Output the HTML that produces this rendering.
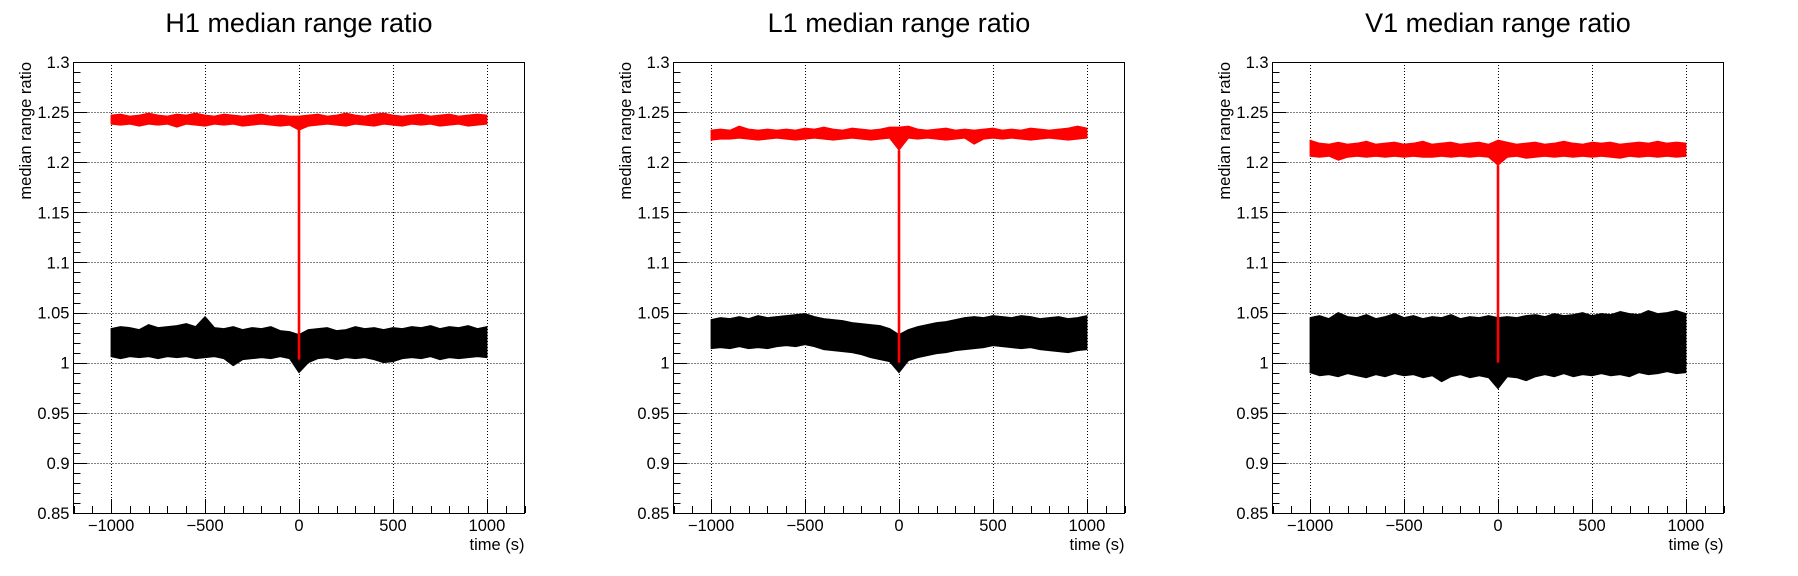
<!DOCTYPE html>
<html><head><meta charset="utf-8">
<style>
html,body{margin:0;padding:0;background:#fff;}
svg{display:block;font-family:"Liberation Sans",sans-serif;}
</style></head>
<body>
<svg id="chart" width="1798" height="576" viewBox="0 0 1798 576" xmlns="http://www.w3.org/2000/svg">
<rect width="1798" height="576" fill="#fff"/>
</svg>
<script>
const times = [-1000,-950,-900,-850,-800,-750,-700,-650,-600,-550,-500,-450,-400,-350,-300,-250,-200,-150,-100,-50,0,50,100,150,200,250,300,350,400,450,500,550,600,650,700,750,800,850,900,950,1000];
const xTicks = [-1000,-500,0,500,1000];
const xTickLabels = ["\u22121000","\u2212500","0","500","1000"];
const yTicks = [0.85,0.9,0.95,1,1.05,1.1,1.15,1.2,1.25,1.3];
const yTickLabels = ["0.85","0.9","0.95","1","1.05","1.1","1.15","1.2","1.25","1.3"];
const panelTitles = ["H1 median range ratio","L1 median range ratio","V1 median range ratio"];

const h1RedHi = [1.247,1.248,1.246,1.247,1.249,1.247,1.246,1.248,1.247,1.249,1.247,1.246,1.248,1.247,1.246,1.247,1.248,1.246,1.247,1.246,1.246,1.247,1.248,1.246,1.247,1.249,1.247,1.246,1.248,1.249,1.247,1.246,1.247,1.248,1.246,1.247,1.248,1.246,1.247,1.248,1.247];
const h1RedLo = [1.238,1.237,1.238,1.236,1.238,1.237,1.238,1.235,1.238,1.237,1.236,1.238,1.237,1.238,1.236,1.237,1.238,1.237,1.236,1.237,1.232,1.236,1.237,1.238,1.237,1.236,1.238,1.237,1.236,1.238,1.237,1.236,1.238,1.237,1.238,1.236,1.237,1.238,1.236,1.237,1.238];
const h1BlkHi = [1.034,1.036,1.035,1.033,1.038,1.035,1.036,1.037,1.039,1.036,1.046,1.035,1.034,1.036,1.033,1.035,1.034,1.036,1.032,1.031,1.028,1.033,1.034,1.035,1.032,1.033,1.036,1.034,1.035,1.033,1.035,1.034,1.036,1.035,1.037,1.034,1.036,1.035,1.037,1.034,1.036];
const h1BlkLo = [1.006,1.004,1.006,1.005,1.006,1.004,1.006,1.005,1.006,1.004,1.005,1.006,1.004,0.997,1.003,1.004,1.005,1.004,1.006,1.004,0.990,1.000,1.004,1.005,1.003,1.005,1.004,1.005,1.003,1.000,1.001,1.004,1.005,1.004,1.006,1.003,1.005,1.004,1.005,1.006,1.005];

const l1RedHi = [1.232,1.233,1.232,1.236,1.233,1.232,1.233,1.232,1.233,1.232,1.234,1.233,1.235,1.233,1.232,1.234,1.233,1.232,1.233,1.235,1.235,1.236,1.233,1.232,1.233,1.234,1.232,1.233,1.232,1.233,1.234,1.232,1.233,1.232,1.234,1.233,1.232,1.233,1.234,1.236,1.234];
const l1RedLo = [1.222,1.223,1.223,1.224,1.223,1.222,1.223,1.224,1.223,1.222,1.223,1.224,1.223,1.222,1.223,1.224,1.223,1.222,1.223,1.224,1.212,1.224,1.223,1.224,1.223,1.222,1.223,1.224,1.218,1.223,1.224,1.223,1.224,1.223,1.222,1.223,1.224,1.223,1.222,1.223,1.224];
const l1BlkHi = [1.043,1.045,1.044,1.046,1.044,1.047,1.045,1.046,1.047,1.048,1.049,1.046,1.044,1.043,1.042,1.040,1.039,1.038,1.037,1.034,1.028,1.033,1.036,1.038,1.040,1.041,1.043,1.045,1.046,1.045,1.047,1.046,1.045,1.047,1.046,1.044,1.045,1.046,1.044,1.045,1.047];
const l1BlkLo = [1.014,1.015,1.014,1.016,1.014,1.015,1.014,1.016,1.017,1.016,1.018,1.016,1.013,1.012,1.011,1.010,1.008,1.005,1.003,1.001,0.990,1.002,1.005,1.007,1.009,1.010,1.012,1.013,1.014,1.015,1.017,1.016,1.015,1.014,1.015,1.013,1.012,1.011,1.010,1.012,1.013];

const v1RedHi = [1.222,1.219,1.218,1.220,1.218,1.219,1.221,1.218,1.219,1.220,1.218,1.219,1.221,1.218,1.219,1.220,1.218,1.219,1.220,1.218,1.222,1.220,1.218,1.219,1.220,1.218,1.219,1.221,1.219,1.218,1.220,1.219,1.220,1.218,1.219,1.220,1.219,1.221,1.219,1.220,1.219];
const v1RedLo = [1.206,1.205,1.206,1.202,1.205,1.206,1.205,1.206,1.205,1.206,1.205,1.206,1.205,1.205,1.206,1.205,1.206,1.205,1.206,1.205,1.197,1.205,1.206,1.204,1.205,1.206,1.205,1.206,1.205,1.206,1.205,1.206,1.205,1.204,1.206,1.205,1.206,1.205,1.206,1.205,1.206];
const v1BlkHi = [1.045,1.047,1.044,1.050,1.046,1.045,1.048,1.044,1.046,1.049,1.045,1.047,1.044,1.046,1.045,1.048,1.044,1.046,1.045,1.047,1.045,1.046,1.045,1.047,1.048,1.046,1.049,1.047,1.048,1.050,1.047,1.049,1.048,1.051,1.049,1.048,1.052,1.049,1.050,1.052,1.049];
const v1BlkLo = [0.990,0.987,0.988,0.986,0.989,0.987,0.985,0.988,0.986,0.989,0.987,0.988,0.985,0.987,0.981,0.986,0.988,0.985,0.987,0.985,0.974,0.986,0.985,0.982,0.986,0.988,0.986,0.989,0.986,0.988,0.987,0.989,0.987,0.988,0.986,0.990,0.988,0.989,0.991,0.989,0.990];

const redDip = [1.003, 1.000, 1.000];
const blackDip = [0.990, 0.990, 0.974];

const series = [
  {rh:h1RedHi, rl:h1RedLo, bh:h1BlkHi, bl:h1BlkLo},
  {rh:l1RedHi, rl:l1RedLo, bh:l1BlkHi, bl:l1BlkLo},
  {rh:v1RedHi, rl:v1RedLo, bh:v1BlkHi, bl:v1BlkLo}
];
const panelOffsets = [0, 600, 1199];
const prefixes = ["h1","l1","v1"];

const NS = "http://www.w3.org/2000/svg";
const svg = document.getElementById('chart');
function mk(tag, attrs, parent){
  const e = document.createElementNS(NS, tag);
  for (const k in attrs) e.setAttribute(k, attrs[k]);
  parent.appendChild(e);
  return e;
}
const X0 = 73.5, W = 451, Y0 = 62, H = 451;
const xMin = -1200, xMax = 1200, yMin = 0.85, yMax = 1.3;

panelOffsets.forEach((off, p) => {
  const g = mk('g', {}, svg);
  
  
  const L = X0 + off;
  const xs = v => L + (v - xMin) / (xMax - xMin) * W;
  const ys = v => Y0 + H - (v - yMin) / (yMax - yMin) * H;

  const t = mk('text', {x: L + W/2, y: 32, 'text-anchor':'middle', 'font-size':27}, g);
  t.textContent = panelTitles[p];
  
  

  const grid = mk('g', {stroke:'#000','stroke-width':1,'stroke-dasharray':'1,2'}, g);
  
  
  xTicks.forEach(v => { const x = Math.round(xs(v)) + 0.5; mk('line', {x1:x, x2:x, y1:Y0, y2:Y0+H}, grid); });
  yTicks.forEach(v => { const y = Math.round(ys(v)) + 0.5; mk('line', {x1:L, x2:L+W, y1:y, y2:y}, grid); });

  const s = series[p];
  function band(hi, lo, color, name){
    let d = '';
    times.forEach((tv, i) => { d += (i ? 'L' : 'M') + xs(tv).toFixed(2) + ',' + ys(hi[i]).toFixed(2); });
    for (let i = times.length - 1; i >= 0; i--) d += 'L' + xs(times[i]).toFixed(2) + ',' + ys(lo[i]).toFixed(2);
    d += 'Z';
    const path = mk('path', {d: d, fill: color, stroke: color, 'stroke-width': 1, 'stroke-linejoin':'round'}, g);
    
    
  }
  band(s.bh, s.bl, '#000', prefixes[p] + '-black-series');
  const mid = times.indexOf(0);
  const bd = mk('line', {x1: xs(0), x2: xs(0), y1: ys(s.bl[mid]), y2: ys(blackDip[p]), stroke:'#000', 'stroke-width':2}, g);
  
  
  band(s.rh, s.rl, '#ff0000', prefixes[p] + '-red-series');
  const rd = mk('line', {x1: xs(0), x2: xs(0), y1: ys(s.rl[mid]), y2: ys(redDip[p]), stroke:'#ff0000', 'stroke-width':2.6}, g);
  
  

  const fr = mk('rect', {x: L, y: Y0 + 0.5, width: W, height: H, fill:'none', stroke:'#000', 'stroke-width':1}, g);
  
  

  const tk = mk('g', {stroke:'#000', 'stroke-width':1}, g);
  
  
  for (let v = -1200; v <= 1200; v += 100) {
    const x = Math.round(xs(v)) + 0.5;
    const major = v % 500 === 0;
    mk('line', {x1:x, x2:x, y1:Y0+H, y2:Y0+H-(major?14:7)}, tk);
  }
  for (let k = 0; k <= 45; k++) {
    const v = yMin + k * 0.01;
    const y = Math.round(ys(v)) + 0.5;
    const major = k % 5 === 0;
    mk('line', {x1:L, x2:L+(major?14:7), y1:y, y2:y}, tk);
  }

  const xl = mk('g', {'font-size':16.5, 'text-anchor':'middle'}, g);
  
  
  xTicks.forEach((v, i) => { const tt = mk('text', {x: xs(v), y: 531}, xl); tt.textContent = xTickLabels[i]; });
  const yl = mk('g', {'font-size':16.5, 'text-anchor':'end'}, g);
  
  
  yTicks.forEach((v, i) => { const tt = mk('text', {x: L - 4, y: ys(v) + 6}, yl); tt.textContent = yTickLabels[i]; });

  const xt = mk('text', {x: L + W, y: 550, 'text-anchor':'end', 'font-size':16.5}, g);
  xt.textContent = 'time (s)';
  
  
  const yt = mk('text', {x: 0, y: 0, 'text-anchor':'end', 'font-size':16.5, transform: 'translate(' + (off + 31) + ',' + Y0 + ') rotate(-90)'}, g);
  yt.textContent = 'median range ratio';
  
  
});
</script>
</body></html>
